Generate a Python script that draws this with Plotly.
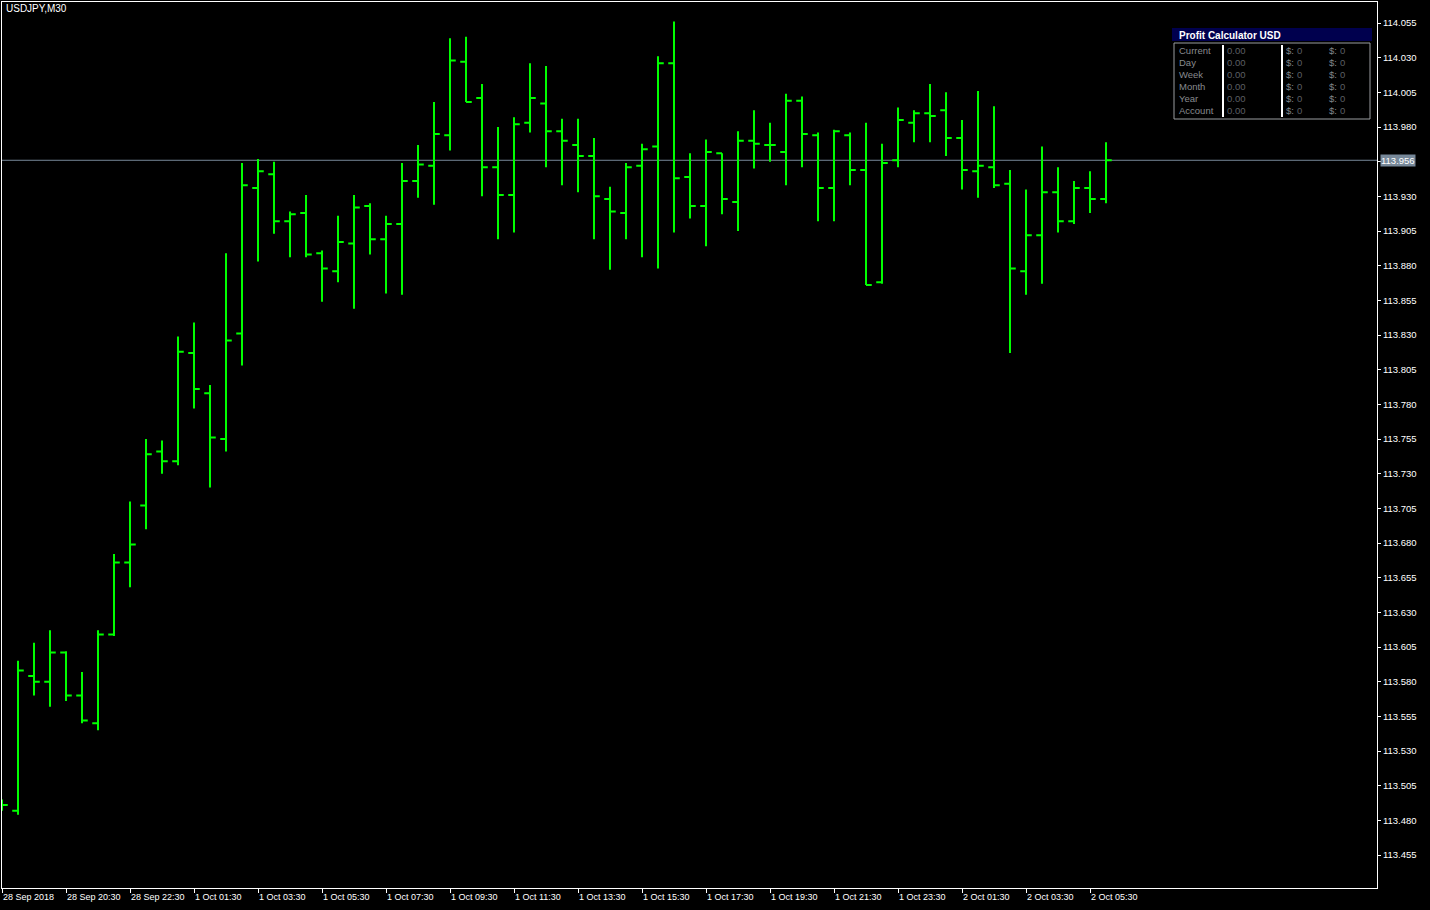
import plotly.graph_objects as go

symbol = "USDJPY,M30"
bar_index = list(range(70))
opens = [113.492, 113.487, 113.584, 113.580, 113.601, 113.570, 113.550, 113.614, 113.666, 113.707,
         113.746, 113.739, 113.817, 113.788, 113.755, 113.831, 113.936, 113.946, 113.912, 113.918,
         113.889, 113.876, 113.896, 113.923, 113.899, 113.910, 113.941, 113.952, 113.974, 114.027,
         114.001, 113.951, 113.931, 113.983, 113.997, 113.977, 113.967, 113.959, 113.928, 113.918,
         113.952, 113.966, 114.026, 113.944, 113.923, 113.961, 113.926, 113.970, 113.967, 113.962,
         113.999, 113.974, 113.936, 113.974, 113.949, 113.868, 113.956, 113.983, 113.990, 113.992,
         113.972, 113.948, 113.951, 113.939, 113.876, 113.902, 113.933, 113.912, 113.936, 113.928]
highs = [113.495, 113.595, 113.608, 113.617, 113.602, 113.587, 113.617, 113.672, 113.710, 113.755,
         113.754, 113.829, 113.839, 113.794, 113.889, 113.954, 113.957, 113.955, 113.919, 113.931,
         113.891, 113.916, 113.931, 113.925, 113.916, 113.954, 113.967, 113.998, 114.044, 114.045,
         114.011, 113.980, 113.987, 114.026, 114.024, 113.986, 113.986, 113.972, 113.937, 113.954,
         113.968, 114.031, 114.056, 113.961, 113.971, 113.961, 113.977, 113.992, 113.983, 114.004,
         114.002, 113.976, 113.978, 113.976, 113.983, 113.968, 113.994, 113.992, 114.011, 114.005,
         113.985, 114.006, 113.995, 113.949, 113.935, 113.966, 113.951, 113.941, 113.948, 113.969]
lows = [113.487, 113.484, 113.570, 113.562, 113.566, 113.550, 113.545, 113.613, 113.648, 113.690,
        113.730, 113.736, 113.777, 113.720, 113.746, 113.808, 113.883, 113.903, 113.886, 113.886,
        113.854, 113.868, 113.849, 113.888, 113.860, 113.859, 113.929, 113.924, 113.963, 113.998,
        113.930, 113.899, 113.904, 113.976, 113.951, 113.938, 113.933, 113.899, 113.877, 113.899,
        113.886, 113.878, 113.904, 113.914, 113.894, 113.917, 113.905, 113.950, 113.955, 113.938,
        113.951, 113.912, 113.912, 113.938, 113.866, 113.867, 113.951, 113.969, 113.969, 113.959,
        113.935, 113.929, 113.936, 113.817, 113.859, 113.867, 113.904, 113.910, 113.918, 113.925]
closes = [113.491, 113.588, 113.580, 113.601, 113.570, 113.552, 113.614, 113.666, 113.679, 113.744,
          113.739, 113.818, 113.791, 113.756, 113.826, 113.938, 113.948, 113.912, 113.917, 113.888,
          113.878, 113.897, 113.922, 113.899, 113.910, 113.941, 113.953, 113.975, 114.028, 113.998,
          113.951, 113.931, 113.982, 114.001, 113.977, 113.970, 113.959, 113.930, 113.919, 113.951,
          113.964, 114.026, 113.943, 113.923, 113.962, 113.928, 113.970, 113.968, 113.967, 113.999,
          113.975, 113.936, 113.977, 113.949, 113.866, 113.954, 113.985, 113.990, 113.988, 113.972,
          113.949, 113.952, 113.938, 113.878, 113.902, 113.933, 113.912, 113.936, 113.928, 113.956]

x_tick_index = [0, 4, 8, 12, 16, 20, 24, 28, 32, 36, 40, 44, 48, 52, 56, 60, 64, 68]
x_tick_labels = ["28 Sep 2018", "28 Sep 20:30", "28 Sep 22:30", "1 Oct 01:30", "1 Oct 03:30",
                 "1 Oct 05:30", "1 Oct 07:30", "1 Oct 09:30", "1 Oct 11:30", "1 Oct 13:30",
                 "1 Oct 15:30", "1 Oct 17:30", "1 Oct 19:30", "1 Oct 21:30", "1 Oct 23:30",
                 "2 Oct 01:30", "2 Oct 03:30", "2 Oct 05:30"]
y_tick_values = [113.455, 113.480, 113.505, 113.530, 113.555, 113.580, 113.605, 113.630, 113.655,
                 113.680, 113.705, 113.730, 113.755, 113.780, 113.805, 113.830, 113.855, 113.880,
                 113.905, 113.930, 113.955, 113.980, 114.005, 114.030, 114.055]

panel_rows = ["Current", "Day", "Week", "Month", "Year", "Account"]
panel_values = ["0.00", "0.00", "0.00", "0.00", "0.00", "0.00"]
panel_counts_a = ["0", "0", "0", "0", "0", "0"]
panel_counts_b = ["0", "0", "0", "0", "0", "0"]

W, H = 1430, 910
ML, MR, MT, MB = 2, 53, 2, 22
PW, PH = W - ML - MR, H - MT - MB
GREEN = "#00ff00"
FONT = "Liberation Sans"


def px(x):
    return (x - ML) / PW


def py(y):
    return (H - MB - y) / PH


fig = go.Figure()
fig.add_trace(go.Ohlc(
    x=bar_index, open=opens, high=highs, low=lows, close=closes,
    increasing=dict(line=dict(color=GREEN, width=2)),
    decreasing=dict(line=dict(color=GREEN, width=2)),
    tickwidth=0.36, hoverinfo="skip", showlegend=False,
))

last = closes[-1]
fig.add_shape(type="line", xref="paper", yref="y", x0=0, x1=1, y0=last, y1=last,
              line=dict(color="#778899", width=1), layer="below")

annotations = [
    dict(text=symbol, xref="paper", yref="paper", x=px(4), y=py(9), xanchor="left",
         yanchor="middle", showarrow=False, font=dict(family=FONT, size=10, color="white")),
    dict(text=f"{last:.3f}", xref="paper", yref="y", x=1.0, xshift=3, y=last, xanchor="left",
         yanchor="middle", showarrow=False, bgcolor="#778899", borderpad=0,
         font=dict(family=FONT, size=9.5, color="white")),
]

shapes = []
# Profit calculator panel
shapes.append(dict(type="rect", xref="paper", yref="paper", x0=px(1172), x1=px(1372),
                   y0=py(121), y1=py(41), fillcolor="#7b7e82", line=dict(color="#5d6064", width=1)))
shapes.append(dict(type="rect", xref="paper", yref="paper", x0=px(1174), x1=px(1370),
                   y0=py(119), y1=py(43), fillcolor="rgba(0,0,0,0)", line=dict(color="#9a9da0", width=1)))
shapes.append(dict(type="rect", xref="paper", yref="paper", x0=px(1172), x1=px(1372),
                   y0=py(41), y1=py(28), fillcolor="#00004e", line=dict(width=0)))
for sx in (1223, 1282):
    shapes.append(dict(type="line", xref="paper", yref="paper", x0=px(sx), x1=px(sx),
                       y0=py(117), y1=py(45), line=dict(color="white", width=2)))
annotations.append(dict(text="<b>Profit Calculator USD</b>", xref="paper", yref="paper",
                        x=px(1177), y=py(35), xanchor="left", yanchor="middle", showarrow=False,
                        font=dict(family=FONT, size=10, color="white")))
for k, (lab, val, ca, cb) in enumerate(zip(panel_rows, panel_values, panel_counts_a, panel_counts_b)):
    yy = py(50.5 + 12 * k)
    annotations.append(dict(text=lab, xref="paper", yref="paper", x=px(1177), y=yy,
                            xanchor="left", yanchor="middle", showarrow=False,
                            font=dict(family=FONT, size=9.5, color="#878a8e")))
    annotations.append(dict(text=val, xref="paper", yref="paper", x=px(1225), y=yy,
                            xanchor="left", yanchor="middle", showarrow=False,
                            font=dict(family=FONT, size=9.5, color="#5c5f63")))
    for cx, cv in ((1284, ca), (1327, cb)):
        annotations.append(dict(text="$:", xref="paper", yref="paper", x=px(cx), y=yy,
                                xanchor="left", yanchor="middle", showarrow=False,
                                font=dict(family=FONT, size=9.5, color="#83868a")))
        annotations.append(dict(text=cv, xref="paper", yref="paper", x=px(cx + 11), y=yy,
                                xanchor="left", yanchor="middle", showarrow=False,
                                font=dict(family=FONT, size=9.5, color="#5c5f63")))

y_top = 113.455 + (855 - MT) / 1386.67
y_bot = 113.455 - (H - MB - 855) / 1386.67

# the current-price box hides the tick label it would overlap
y_tick_text = ["" if abs(v - last) < 0.012 else f"{v:.3f}" for v in y_tick_values]

fig.update_layout(
    width=W, height=H,
    margin=dict(l=ML, r=MR, t=MT, b=MB),
    paper_bgcolor="black", plot_bgcolor="black",
    showlegend=False,
    shapes=shapes, annotations=annotations,
    xaxis=dict(range=[0, PW / 16], rangeslider=dict(visible=False), showgrid=False,
               zeroline=False, showline=True, mirror=True, linecolor="white", linewidth=1,
               tickmode="array", tickvals=x_tick_index, ticktext=x_tick_labels,
               ticks="outside", ticklen=4, tickcolor="white", ticklabelposition="outside right",
               tickfont=dict(family=FONT, size=9, color="white")),
    yaxis=dict(range=[y_bot, y_top], side="right", showgrid=False, zeroline=False,
               showline=True, mirror=True, linecolor="white", linewidth=1,
               tickmode="array", tickvals=y_tick_values, ticktext=y_tick_text,
               ticks="outside", ticklen=3, tickcolor="white",
               tickfont=dict(family=FONT, size=9.5, color="white")),
)

fig.write_html("out.html", config={"displayModeBar": False},
               post_script="document.body.style.margin='0';document.body.style.background='black';")
